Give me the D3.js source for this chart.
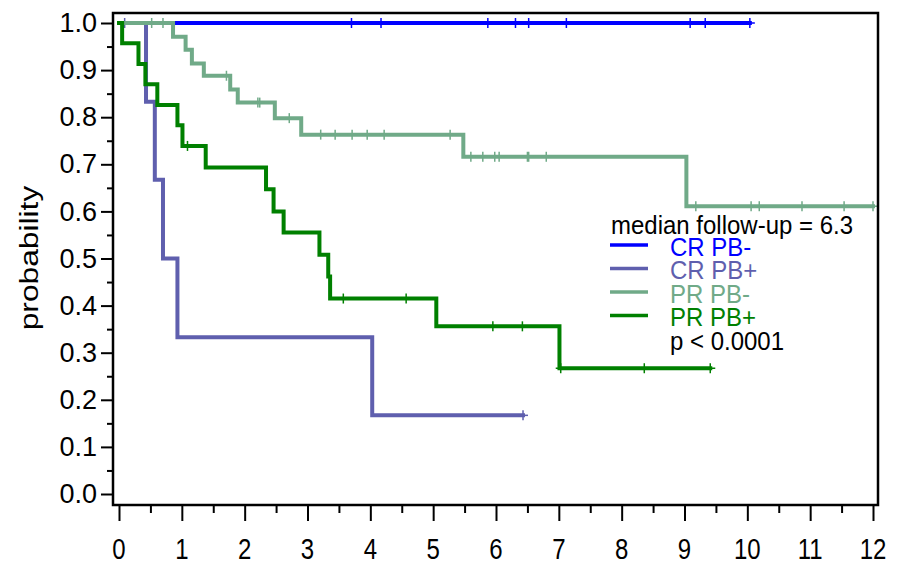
<!DOCTYPE html>
<html><head><meta charset="utf-8">
<script src="https://cdn.jsdelivr.net/npm/d3@7"></script>
<style>body{margin:0;background:#fff} svg{display:block}</style>
</head><body>
<svg id="chart" width="898" height="570"></svg>
<script>
// Kaplan-Meier curves: event times (years), survival after each event, censoring times, last follow-up
const seriesNames  = ["CR PB-", "CR PB+", "PR PB-", "PR PB+"];
const seriesColors = ["#0000ff", "#5f5fae", "#70aa88", "#008000"];

const crNegTimes  = [];
const crNegSurv   = [];
const crNegCensor = [3.70, 4.17, 5.87, 6.31, 6.52, 7.12, 9.09, 9.33, 10.04];
const crNegEnd    = 10.04;

const crPosTimes  = [0.43, 0.57, 0.70, 0.93, 4.03];
const crPosSurv   = [0.833, 0.667, 0.500, 0.333, 0.167];
const crPosCensor = [0.09, 6.43];
const crPosEnd    = 6.43;

const prNegTimes  = [0.86, 1.06, 1.16, 1.35, 1.77, 1.89, 2.48, 2.90, 5.48, 9.03];
const prNegSurv   = [0.971, 0.943, 0.914, 0.888, 0.859, 0.831, 0.798, 0.763, 0.716, 0.611];
const prNegCensor = [0.52, 0.70, 1.71, 2.21, 2.24, 2.71, 3.21, 3.44, 3.71, 3.95, 4.22, 5.27,
                     5.60, 5.79, 5.98, 6.05, 6.50, 6.52, 6.80, 9.18, 10.06, 10.19, 10.87, 11.54, 12.0];
const prNegEnd    = 12.0;

const prPosTimes  = [0.05, 0.31, 0.42, 0.61, 0.93, 1.01, 1.38, 2.34, 2.46, 2.62, 3.19, 3.33, 3.36, 5.05, 7.01];
const prPosSurv   = [0.957, 0.913, 0.870, 0.826, 0.783, 0.739, 0.693, 0.647, 0.600, 0.555, 0.508, 0.462, 0.415, 0.356, 0.267];
const prPosCensor = [1.09, 3.57, 4.57, 5.95, 6.42, 7.03, 8.36, 9.41];
const prPosEnd    = 9.41;

const xTicks = [0,1,2,3,4,5,6,7,8,9,10,11,12];
const yTicks = [0,0.1,0.2,0.3,0.4,0.5,0.6,0.7,0.8,0.9,1.0];
const legendTitle = "median follow-up = 6.3";
const pValueText  = "p < 0.0001";
const yTitle = "probability";

const curves = [
  {name: seriesNames[0], color: seriesColors[0], times: crNegTimes, surv: crNegSurv, censor: crNegCensor, end: crNegEnd},
  {name: seriesNames[1], color: seriesColors[1], times: crPosTimes, surv: crPosSurv, censor: crPosCensor, end: crPosEnd},
  {name: seriesNames[2], color: seriesColors[2], times: prNegTimes, surv: prNegSurv, censor: prNegCensor, end: prNegEnd},
  {name: seriesNames[3], color: seriesColors[3], times: prPosTimes, surv: prPosSurv, censor: prPosCensor, end: prPosEnd}
];

const svg = d3.select("#chart");
const font = "'Liberation Sans', Arial, sans-serif";

const frame = {left: 113, right: 878, top: 13, bottom: 505};
const x = d3.scaleLinear().domain([0, 12]).range([119, 873]);
const y = d3.scaleLinear().domain([0, 1]).range([494, 23]);

// step value of a curve at time t
function survAt(c, t) {
  let s = 1;
  c.times.forEach((et, i) => { if (et <= t) s = c.surv[i]; });
  return s;
}

function styleAxis(g, size) {
  g.select(".domain").remove();
  g.selectAll(".tick line").attr("stroke", "#000").attr("stroke-width", 2);
  g.selectAll(".tick text").attr("fill", "#000").style("font-family", font).style("font-size", size + "px");
}

// Y axis: major ticks with labels, minor ticks halfway
const yAxis = d3.axisLeft(y).tickValues(yTicks).tickFormat(d3.format(".1f")).tickSize(12).tickPadding(4);
const yMinor = d3.axisLeft(y).tickValues(d3.range(0.05, 1.0, 0.1)).tickFormat("").tickSize(6);
svg.append("g").attr("transform", `translate(${frame.left},0)`).call(yAxis).call(g => styleAxis(g, 27));
svg.append("g").attr("transform", `translate(${frame.left},0)`).call(yMinor).call(g => styleAxis(g, 27));

// X axis: tick marks from the axis generator, taller labels placed from the same scale
const xAxis = d3.axisBottom(x).tickValues(xTicks).tickFormat("").tickSize(16);
const xMinor = d3.axisBottom(x).tickValues(d3.range(0.5, 12, 1)).tickFormat("").tickSize(8);
svg.append("g").attr("transform", `translate(0,${frame.bottom})`).call(xAxis).call(g => styleAxis(g, 24));
svg.append("g").attr("transform", `translate(0,${frame.bottom})`).call(xMinor).call(g => styleAxis(g, 24));
svg.append("g").selectAll("text").data(xTicks).join("text")
  .attr("transform", d => `translate(${x(d)},559) scale(1,1.25)`)
  .attr("text-anchor", "middle").style("font-family", font).style("font-size", "24px")
  .attr("fill", "#000").text(d => d3.format("d")(d));

// Curves
const line = d3.line().x(d => x(d[0])).y(d => y(d[1])).curve(d3.curveStepAfter);
const plot = svg.append("g");
curves.forEach(c => {
  const pts = [[0, 1]];
  c.times.forEach((t, i) => pts.push([t, c.surv[i]]));
  pts.push([c.end, c.surv.length ? c.surv[c.surv.length - 1] : 1]);
  c.pts = pts;
});

curves.forEach(c => {
  const g = plot.append("g");
  g.append("path").datum(c.pts).attr("d", line)
    .attr("fill", "none").attr("stroke", c.color).attr("stroke-width", 4)
    .attr("stroke-linejoin", "miter").attr("stroke-linecap", "square");
  c.censor.forEach(t => {
    const cx = x(t), cy = y(survAt(c, t));
    g.append("line").attr("x1", cx).attr("x2", cx).attr("y1", cy - 5).attr("y2", cy + 5)
      .attr("stroke", c.color).attr("stroke-width", 1.5);
    g.append("line").attr("x1", cx - 5).attr("x2", cx + 5).attr("y1", cy).attr("y2", cy)
      .attr("stroke", c.color).attr("stroke-width", 1.5);
  });
});

// Frame
svg.append("rect").attr("x", frame.left).attr("y", frame.top)
  .attr("width", frame.right - frame.left).attr("height", frame.bottom - frame.top)
  .attr("fill", "none").attr("stroke", "#000").attr("stroke-width", 2.5);

// Y title
svg.append("text").attr("transform", "translate(38,258) scale(1,1.22) rotate(-90)")
  .attr("text-anchor", "middle").style("font-family", font).style("font-size", "26px")
  .attr("fill", "#000").text(yTitle);

// Legend
const lg = svg.append("g").style("font-family", font).style("font-size", "24px");
lg.append("text").attr("transform", "translate(611,234) scale(1,1.05)").attr("fill", "#000").text(legendTitle);
curves.forEach((c, i) => {
  const ly = 245 + i * 23.5;
  lg.append("line").attr("x1", 610).attr("x2", 648).attr("y1", ly).attr("y2", ly)
    .attr("stroke", c.color).attr("stroke-width", 3.5);
  lg.append("text").attr("transform", `translate(670,${ly + 10.5}) scale(1,1.05)`).attr("fill", c.color).text(c.name);
});
lg.append("text").attr("transform", `translate(670,${245 + 4 * 23.5 + 10.5}) scale(1,1.05)`).attr("fill", "#000").text(pValueText);
</script>
</body></html>
